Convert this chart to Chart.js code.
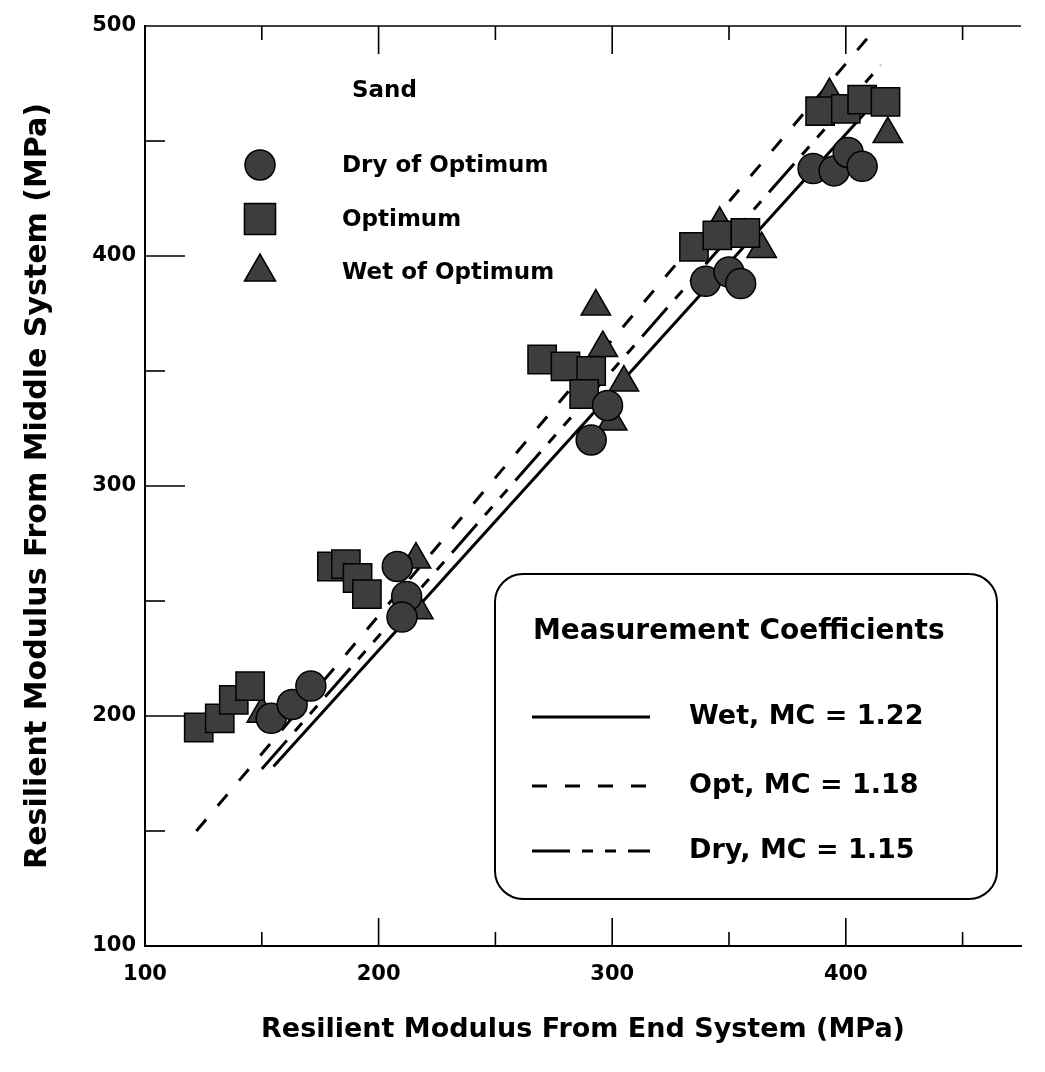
<!DOCTYPE html>
<html>
<head>
<meta charset="utf-8">
<title>Resilient Modulus - Sand</title>
<script src="https://cdn.jsdelivr.net/npm/chart.js@4.4.0/dist/chart.umd.min.js"></script>
<style>
  html, body { margin: 0; padding: 0; background: #fff; }
  #wrap { width: 1045px; height: 1072px; }
</style>
</head>
<body>
<div id="wrap"><canvas id="modulusChart" width="1045" height="1072"></canvas></div>
<script>
// Sand, resilient modulus (MPa): end system (x) vs middle system (y)
const dryX = [154, 163, 171, 208, 212, 210, 298, 291, 340, 350, 355, 386, 395, 401, 407];
const dryY = [199, 205, 213, 265, 252, 243, 335, 320, 389, 393, 388, 438, 437, 445, 439];

const optX = [123, 132, 138, 145, 180, 186, 191, 195, 270, 280, 291, 288, 335, 345, 357, 389, 400, 407, 417];
const optY = [195, 199, 207, 213, 265, 266, 260, 253, 355, 352, 350, 340, 404, 409, 410, 463, 464, 468, 467];

const wetX = [150, 216, 217, 293, 296, 305, 300, 364, 346, 418, 393];
const wetY = [201, 268, 246, 378, 360, 345, 328, 403, 414, 453, 470];

// fitted lines (end points)
const wetLineX = [155, 408];
const wetLineY = [178, 462];
const optLineX = [122, 412];
const optLineY = [150, 498];
const dryLineX = [150, 415];
const dryLineY = [177, 483];

const seriesNames = ['Dry of Optimum', 'Optimum', 'Wet of Optimum'];
const fitNames = ['Wet, MC = 1.22', 'Opt, MC = 1.18', 'Dry, MC = 1.15'];
const xTickLabels = [100, 200, 300, 400];
const yTickLabels = [100, 200, 300, 400, 500];

const FONT = '"DejaVu Sans", "Liberation Sans", Arial, sans-serif';
const MARK_FILL = '#3d3d3d';
const DRY_DASH = [38, 12, 11, 12, 11, 12];
const OPT_DASH = [15, 18];

function toPoints(xs, ys) {
  return xs.map((x, i) => ({ x: x, y: ys[i] }));
}

/**
 * Inward tick marks, top axis line and the two legends
 */
const sandDecorations = {
  id: 'sandDecorations',
  beforeDatasetsDraw(chart) {
    const { ctx, chartArea, scales } = chart;
    const { left, right, top, bottom } = chartArea;
    ctx.save();
    ctx.strokeStyle = '#000';
    ctx.lineWidth = 1.6;

    // top axis line (no right axis in the original)
    ctx.beginPath();
    ctx.moveTo(left, top);
    ctx.lineTo(right, top);
    ctx.stroke();

    scales.x.ticks.forEach(t => {
      if (t.value % 50 !== 0 || t.value <= 100) return;
      const px = scales.x.getPixelForValue(t.value);
      const len = t.value % 100 === 0 ? 28 : 14;
      ctx.beginPath();
      ctx.moveTo(px, bottom);
      ctx.lineTo(px, bottom - len);
      ctx.moveTo(px, top);
      ctx.lineTo(px, top + len);
      ctx.stroke();
    });

    scales.y.ticks.forEach(t => {
      if (t.value % 50 !== 0 || t.value <= 100 || t.value >= 500) return;
      const py = scales.y.getPixelForValue(t.value);
      const len = t.value % 100 === 0 ? 40 : 20;
      ctx.beginPath();
      ctx.moveTo(left, py);
      ctx.lineTo(left + len, py);
      ctx.stroke();
    });
    ctx.restore();
  },
  afterDraw(chart) {
    const { ctx } = chart;
    const draw = Chart.helpers.drawPoint;
    ctx.save();
    ctx.fillStyle = '#000';
    ctx.textBaseline = 'middle';

    // marker legend
    ctx.font = 'bold 23px ' + FONT;
    ctx.fillText('Sand', 352, 91);
    const styles = [
      { pointStyle: 'circle', radius: 15, y: 165 },
      { pointStyle: 'rect', radius: 22, y: 219 },
      { pointStyle: 'triangle', radius: 18, y: 272 }
    ];
    styles.forEach((s, i) => {
      ctx.fillStyle = MARK_FILL;
      ctx.strokeStyle = '#000';
      ctx.lineWidth = 1.5;
      draw(ctx, { pointStyle: s.pointStyle, radius: s.radius, borderWidth: 1.5, rotation: 0 }, 260, s.y);
      ctx.fillStyle = '#000';
      ctx.fillText(seriesNames[i], 342, s.y + 1);
    });

    // measurement coefficient box
    ctx.strokeStyle = '#000';
    ctx.lineWidth = 2;
    ctx.beginPath();
    ctx.roundRect(495, 574, 502, 325, 28);
    ctx.stroke();

    ctx.font = 'bold 28px ' + FONT;
    ctx.fillText('Measurement Coefficients', 533, 632);

    const rowY = [717, 786, 851];
    const dashes = [[], OPT_DASH, DRY_DASH];
    ctx.font = 'bold 27px ' + FONT;
    rowY.forEach((y, i) => {
      ctx.lineWidth = 3;
      ctx.setLineDash(dashes[i]);
      ctx.beginPath();
      ctx.moveTo(532, y);
      ctx.lineTo(650, y);
      ctx.stroke();
      ctx.setLineDash([]);
      ctx.fillText(fitNames[i], 689, y);
    });
    ctx.restore();
  }
};

const markerStyle = {
  backgroundColor: MARK_FILL,
  borderColor: '#000',
  borderWidth: 1.5,
  hoverRadius: 0
};

const canvas = document.getElementById('modulusChart');
const modulusChart = new Chart(canvas, {
  type: 'scatter',
  data: {
    datasets: [
      Object.assign({ label: seriesNames[0], data: toPoints(dryX, dryY), pointStyle: 'circle', pointRadius: 15 }, markerStyle),
      Object.assign({ label: seriesNames[1], data: toPoints(optX, optY), pointStyle: 'rect', pointRadius: 20 }, markerStyle),
      Object.assign({ label: seriesNames[2], data: toPoints(wetX, wetY), pointStyle: 'triangle', pointRadius: 17 }, markerStyle),
      {
        label: fitNames[0], data: toPoints(wetLineX, wetLineY), showLine: true,
        borderColor: '#000', borderWidth: 3, pointRadius: 0, fill: false
      },
      {
        label: fitNames[1], data: toPoints(optLineX, optLineY), showLine: true,
        borderColor: '#000', borderWidth: 3, borderDash: OPT_DASH, pointRadius: 0, fill: false
      },
      {
        label: fitNames[2], data: toPoints(dryLineX, dryLineY), showLine: true,
        borderColor: '#000', borderWidth: 3, borderDash: DRY_DASH, pointRadius: 0, fill: false
      }
    ]
  },
  options: {
    responsive: false,
    animation: false,
    devicePixelRatio: 1,
    layout: { padding: { top: 26, right: 24, left: 0, bottom: 0 } },
    plugins: {
      legend: { display: false },
      tooltip: { enabled: false }
    },
    scales: {
      x: {
        type: 'linear',
        min: 100,
        max: 475,
        afterFit(scale) { scale.height = 126; },
        grid: { display: false, drawTicks: false },
        border: { display: true, color: '#000', width: 2 },
        ticks: {
          stepSize: 50,
          padding: 16,
          color: '#000',
          font: { family: FONT, size: 21, weight: 'bold' },
          maxRotation: 0,
          autoSkip: false,
          callback: v => xTickLabels.includes(v) ? String(v) : ''
        },
        title: {
          display: true,
          text: 'Resilient Modulus From End System (MPa)',
          color: '#000',
          font: { family: FONT, size: 27, weight: 'bold' },
          padding: { top: 0, bottom: 26 }
        }
      },
      y: {
        type: 'linear',
        min: 100,
        max: 500,
        afterFit(scale) { scale.width = 145; },
        grid: { display: false, drawTicks: false },
        border: { display: true, color: '#000', width: 2 },
        ticks: {
          stepSize: 50,
          padding: 9,
          color: '#000',
          font: { family: FONT, size: 21, weight: 'bold' },
          autoSkip: false,
          callback: v => yTickLabels.includes(v) ? String(v) : ''
        },
        title: {
          display: true,
          text: 'Resilient Modulus From Middle System (MPa)',
          color: '#000',
          font: { family: FONT, size: 30, weight: 'bold' },
          padding: { top: 20, bottom: 0 }
        }
      }
    }
  },
  plugins: [sandDecorations]
});
</script>
</body>
</html>
